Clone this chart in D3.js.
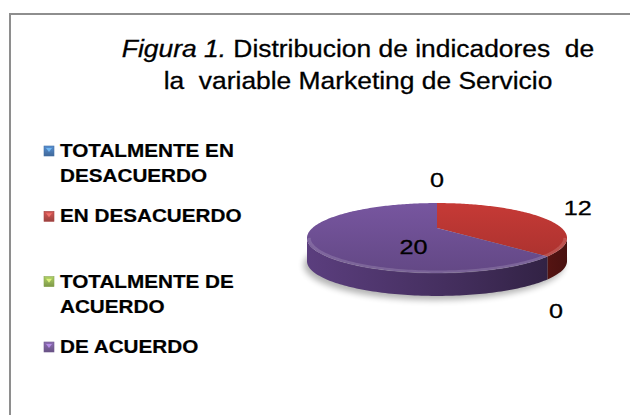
<!DOCTYPE html>
<html>
<head>
<meta charset="utf-8">
<script src="https://cdn.jsdelivr.net/npm/d3@7"></script>
<style>
  html, body { margin: 0; padding: 0; background: #fff; }
  svg { display: block; font-family: "Liberation Sans", Arial, sans-serif; }
</style>
</head>
<body>
<svg id="chart" width="630" height="415"></svg>
<script>
// data
const categories = ['TOTALMENTE EN DESACUERDO', 'EN DESACUERDO', 'TOTALMENTE DE ACUERDO', 'DE ACUERDO'];
const legendLines = [['TOTALMENTE EN', 'DESACUERDO'], ['EN DESACUERDO'], ['TOTALMENTE DE', 'ACUERDO'], ['DE ACUERDO']];
const values = [0, 12, 0, 20];
const colors = ['#4f81bd', '#c0504d', '#9bbb59', '#8064a2'];
const titleItalic = 'Figura 1.';
const titleRest = ' Distribucion de indicadores\u00a0 de';
const titleLine2 = 'la\u00a0 variable Marketing de Servicio';

const svg = d3.select('#chart');
const defs = svg.append('defs');

// hsl tweak used for the 3d shading
const shade = (c, sMul, lMul) => {
    const h = d3.hsl(c);
    h.s = Math.min(1, h.s * sMul);
    h.l = h.l * lMul;
    return h.formatHex();
};

// frame
svg.append('rect')
    .attr('x', 10).attr('y', 14)
    .attr('width', 640).attr('height', 420)
    .attr('fill', 'none')
    .attr('stroke', '#8e8e8e')
    .attr('stroke-width', 2);

// title (text in the source is stretched a little horizontally)
const title = svg.append('g')
    .attr('transform', 'translate(358,0) scale(1.1,1)')
    .attr('fill', '#000')
    .attr('stroke', '#000')
    .attr('stroke-width', 0.3);
const t1 = title.append('text')
    .attr('y', 57)
    .attr('text-anchor', 'middle')
    .attr('font-size', 24);
t1.append('tspan').attr('font-style', 'italic').text(titleItalic);
t1.append('tspan').text(titleRest);
title.append('text')
    .attr('y', 89)
    .attr('text-anchor', 'middle')
    .attr('font-size', 24)
    .text(titleLine2);

// legend
const legendY = d3.scalePoint().domain(categories).range([157, 353]);
const legend = svg.append('g');
categories.forEach((c, i) => {
    const y = legendY(c);
    const g = defs.append('linearGradient')
        .attr('id', `leg${i}`)
        .attr('x1', 0).attr('y1', 0).attr('x2', 0).attr('y2', 1);
    g.append('stop').attr('offset', 0).attr('stop-color', d3.color(colors[i]).brighter(0.3));
    g.append('stop').attr('offset', 1).attr('stop-color', d3.color(colors[i]).darker(0.6));
    legend.append('rect')
        .attr('x', 44).attr('y', y - 11)
        .attr('width', 10).attr('height', 10)
        .attr('fill', `url(#leg${i})`)
        .attr('stroke', d3.color(colors[i]).darker(0.4))
        .attr('stroke-width', 0.6);
    legend.append('path')
        .attr('d', `M${46},${y - 9}L${52},${y - 9}L${49},${y - 5}Z`)
        .attr('fill', d3.color(colors[i]).brighter(1.2))
        .attr('opacity', 0.8);
    legendLines[i].forEach((line, j) => {
        legend.append('text')
            .attr('transform', `translate(60,${y + j * 25}) scale(1.15,1)`)
            .attr('font-size', 18)
            .attr('font-weight', 'bold')
            .attr('fill', '#000')
            .attr('stroke', '#000')
            .attr('stroke-width', 0.2)
            .text(line);
    });
});

// 3D pie, drawn with a small perspective
const cx = 437, cy = 228, a = 124.6, b = 32.1, k = 0.2857, depth = 23;
const proj = (theta, r = 1, dz = 0) => {
    const u = Math.sin(theta) * r, v = -Math.cos(theta) * r;
    const den = 1 - k * v;
    return [cx + a * u / den, cy + b * v / den + dz];
};
const arcPts = (a0, a1, r = 1, dz = 0) => {
    const n = Math.max(2, Math.ceil((a1 - a0) / 0.02));
    return d3.range(n + 1).map((i) => proj(a0 + (a1 - a0) * i / n, r, dz));
};
const line = d3.line();
const arcs = d3.pie().sort(null).value((d) => d)(values);
const sil = Math.acos(-k);

// shadow
const blur = defs.append('filter').attr('id', 'blur')
    .attr('x', -0.2).attr('y', -0.5).attr('width', 1.4).attr('height', 2);
blur.append('feGaussianBlur').attr('stdDeviation', 3);
svg.append('path')
    .attr('d', line(arcPts(0, 2 * Math.PI, 1, depth + 2)) + 'Z')
    .attr('transform', 'translate(-3,2)')
    .attr('fill', '#000')
    .attr('opacity', 0.3)
    .attr('filter', 'url(#blur)');

arcs.forEach((d, i) => {
    const base = colors[i];
    const sg = defs.append('linearGradient')
        .attr('id', `side${i}`)
        .attr('gradientUnits', 'userSpaceOnUse')
        .attr('x1', cx - a * 1.05).attr('y1', 0).attr('x2', cx + a * 1.05).attr('y2', 0);
    sg.append('stop').attr('offset', 0).attr('stop-color', shade(base, 1.35, 0.72));
    sg.append('stop').attr('offset', 0.6).attr('stop-color', shade(base, 1.35, 0.52));
    sg.append('stop').attr('offset', 0.9).attr('stop-color', shade(base, 1.35, 0.4));
    sg.append('stop').attr('offset', 1).attr('stop-color', shade(base, 1.35, 0.33));
    const tg = defs.append('linearGradient')
        .attr('id', `top${i}`)
        .attr('gradientUnits', 'userSpaceOnUse')
        .attr('x1', 0).attr('y1', cy - b).attr('x2', 0).attr('y2', cy + b * 1.4);
    tg.append('stop').attr('offset', 0).attr('stop-color', shade(base, 1.2, 0.95));
    tg.append('stop').attr('offset', 1).attr('stop-color', shade(base, 1.2, 0.78));
});

// sides
arcs.forEach((d, i) => {
    const s0 = Math.max(d.startAngle, sil), s1 = Math.min(d.endAngle, 2 * Math.PI - sil);
    if (s1 <= s0) return;
    const pts = arcPts(s0, s1).concat(arcPts(s0, s1, 1, depth).reverse());
    svg.append('path')
        .attr('d', line(pts) + 'Z')
        .attr('fill', `url(#side${i})`);
});

// tops
arcs.forEach((d, i) => {
    if (d.endAngle - d.startAngle <= 0) return;
    const pts = [[cx, cy]].concat(arcPts(d.startAngle, d.endAngle));
    svg.append('path')
        .attr('d', line(pts) + 'Z')
        .attr('fill', `url(#top${i})`);
});

// bevel highlight along the front rim
svg.append('path')
    .attr('d', line(arcPts(sil, 2 * Math.PI - sil, 0.985)))
    .attr('fill', 'none')
    .attr('stroke', '#fff')
    .attr('stroke-opacity', 0.15)
    .attr('stroke-width', 3);

// data labels
const labels = svg.append('g');
arcs.forEach((d, i) => {
    const mid = (d.startAngle + d.endAngle) / 2;
    let x, y;
    if (d.value > 0 && d.endAngle - d.startAngle > Math.PI) {
        [x, y] = proj(mid, 0.2, depth * 0.7);
    } else {
        const u = Math.sin(mid), v = -Math.cos(mid);
        const p = proj(mid);
        x = p[0] + u * 40 * (v > 0 ? 0.3 : 1);
        y = p[1] + v * 24 + (v > 0 ? depth * 1.6 : 0);
    }
    labels.append('text')
        .attr('transform', `translate(${x},${y + 7.5}) scale(1.2,1)`)
        .attr('text-anchor', 'middle')
        .attr('font-size', 21)
        .attr('fill', '#000')
        .attr('stroke', '#000')
        .attr('stroke-width', 0.3)
        .text(d.value);
});
</script>
</body>
</html>
